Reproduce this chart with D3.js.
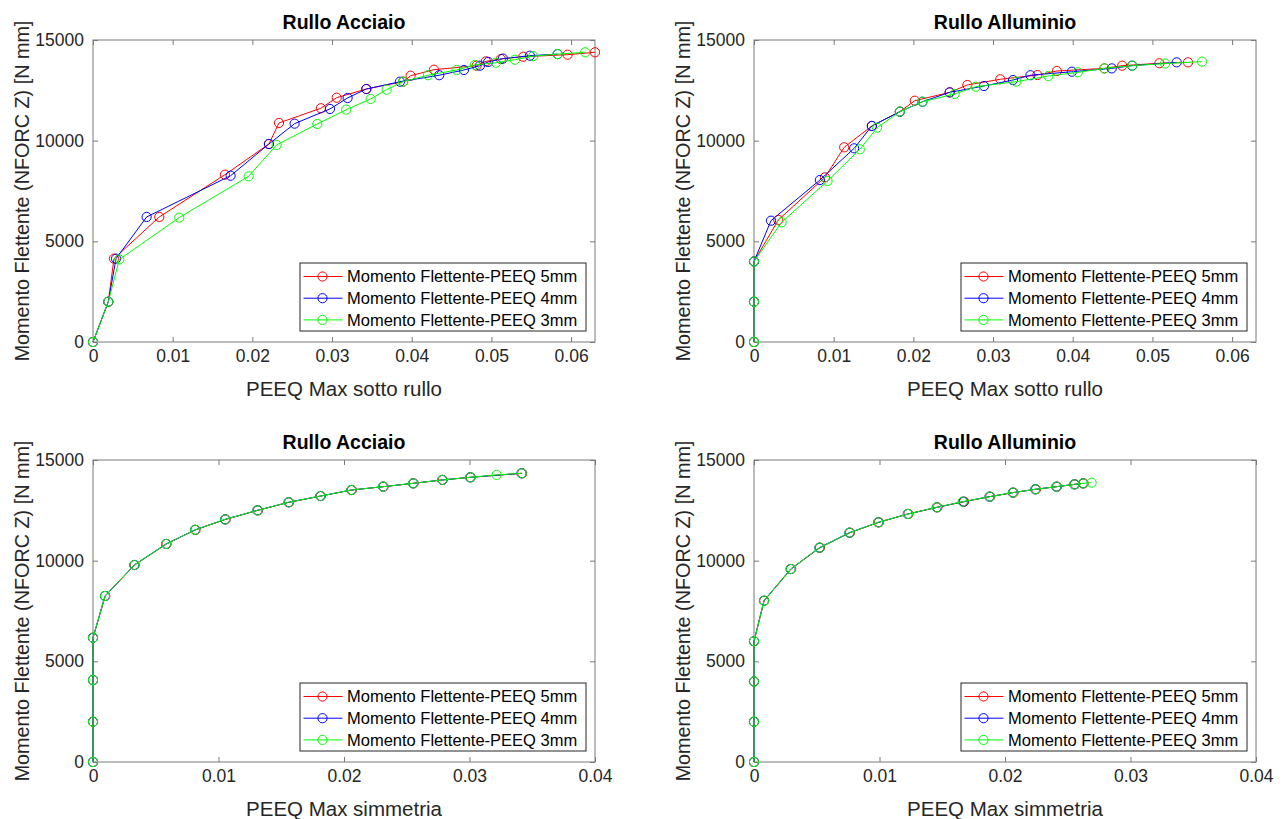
<!DOCTYPE html>
<html>
<head>
<meta charset="utf-8">
<script src="https://cdn.jsdelivr.net/npm/d3@7"></script>
<style>
  html, body { margin: 0; padding: 0; background: #fff; }
  svg { display: block; font-family: "Liberation Sans", Arial, Helvetica, sans-serif; }
</style>
</head>
<body>
<svg id="chart" width="1284" height="819"></svg>
<script>
// ---- Data: PEEQ (x) vs bending moment (y) ----
// Steel roller, PEEQ max under the roller
const acciaioRullo5x = [0, 0.00192, 0.00263, 0.00832, 0.01656, 0.02208, 0.02334, 0.0286, 0.03058, 0.0343, 0.03893, 0.03986, 0.04279, 0.04814, 0.04931, 0.05119, 0.05399, 0.05956, 0.0630];
const acciaioRullo5y = [0, 2000, 4140, 6210, 8310, 9835, 10880, 11610, 12135, 12565, 12930, 13225, 13525, 13725, 13940, 14055, 14170, 14270, 14390];
const acciaioRullo4x = [0, 0.00192, 0.00289, 0.00673, 0.01727, 0.02208, 0.0253, 0.02974, 0.03195, 0.0343, 0.03852, 0.04345, 0.04655, 0.04856, 0.0496, 0.05144, 0.05483, 0.05831];
const acciaioRullo4y = [0, 2000, 4140, 6210, 8260, 9835, 10845, 11575, 12120, 12565, 12930, 13250, 13510, 13725, 13910, 14075, 14220, 14300];
const acciaioRullo3x = [0, 0.00192, 0.0033, 0.01083, 0.01953, 0.02304, 0.02815, 0.03178, 0.03484, 0.03685, 0.0389, 0.04204, 0.04563, 0.04793, 0.05057, 0.05295, 0.05524, 0.05831, 0.06177];
const acciaioRullo3y = [0, 2000, 4100, 6180, 8230, 9786, 10830, 11540, 12070, 12535, 12930, 13250, 13510, 13760, 13870, 14020, 14200, 14300, 14390];

// Aluminium roller, PEEQ max under the roller
const alluminioRullo5x = [0, 0, 0, 0.00305, 0.0089, 0.01132, 0.01479, 0.0183, 0.02018, 0.02456, 0.02677, 0.03091, 0.03556, 0.03801, 0.04398, 0.0462, 0.05088, 0.05447];
const alluminioRullo5y = [0, 2000, 4000, 6060, 8180, 9670, 10730, 11440, 11985, 12400, 12765, 13050, 13260, 13460, 13590, 13725, 13845, 13890];
const alluminioRullo4x = [0, 0, 0, 0.00213, 0.00827, 0.01257, 0.01479, 0.0183, 0.02114, 0.02456, 0.02886, 0.0325, 0.0347, 0.03989, 0.0449, 0.04745, 0.05305];
const alluminioRullo4y = [0, 2000, 4000, 6025, 8046, 9620, 10730, 11440, 11935, 12400, 12715, 13010, 13250, 13425, 13590, 13725, 13890];
const alluminioRullo3x = [0, 0, 0, 0.00347, 0.00923, 0.01328, 0.01545, 0.0183, 0.02114, 0.02519, 0.02782, 0.03291, 0.03694, 0.04064, 0.04398, 0.0475, 0.05159, 0.05623];
const alluminioRullo3y = [0, 2000, 4000, 5945, 7997, 9570, 10645, 11440, 11935, 12320, 12680, 12930, 13210, 13395, 13590, 13725, 13830, 13925];

// Steel roller, PEEQ max at the symmetry plane
const acciaioSimm5x = [0, 0, 0, 0, 0.00098, 0.00332, 0.00586, 0.00817, 0.01057, 0.01315, 0.01563, 0.01816, 0.02063, 0.02316, 0.02555, 0.02787, 0.0301, 0.0342];
const acciaioSimm5y = [0, 2000, 4070, 6170, 8245, 9785, 10830, 11530, 12050, 12500, 12900, 13210, 13510, 13675, 13840, 14010, 14140, 14340];
const acciaioSimm4x = [0, 0, 0, 0, 0.00095, 0.00329, 0.00582, 0.00813, 0.01052, 0.0131, 0.01558, 0.01811, 0.02058, 0.02311, 0.0255, 0.02782, 0.03005, 0.03414];
const acciaioSimm4y = [0, 2000, 4070, 6170, 8245, 9785, 10830, 11530, 12050, 12500, 12900, 13210, 13510, 13675, 13840, 14010, 14140, 14340];
const acciaioSimm3x = [0, 0, 0, 0, 0.00096, 0.0033, 0.00583, 0.00814, 0.01053, 0.01311, 0.01559, 0.01812, 0.02059, 0.02312, 0.02551, 0.02783, 0.03006, 0.03216, 0.03416];
const acciaioSimm3y = [0, 2000, 4070, 6170, 8245, 9785, 10830, 11530, 12050, 12500, 12900, 13210, 13510, 13675, 13840, 14010, 14140, 14260, 14340];

// Aluminium roller, PEEQ max at the symmetry plane
const alluminioSimm5x = [0, 0, 0, 0, 0.00082, 0.00296, 0.00526, 0.00765, 0.00996, 0.01231, 0.01462, 0.01674, 0.01882, 0.02068, 0.02247, 0.02415, 0.02558, 0.02627];
const alluminioSimm5y = [0, 2000, 4000, 6000, 8010, 9585, 10645, 11390, 11905, 12320, 12650, 12930, 13180, 13380, 13545, 13675, 13790, 13840];
const alluminioSimm4x = [0, 0, 0, 0, 0.00079, 0.00292, 0.00521, 0.0076, 0.0099, 0.01225, 0.01456, 0.01668, 0.01876, 0.02062, 0.02241, 0.02409, 0.02552, 0.02621];
const alluminioSimm4y = [0, 2000, 4000, 6000, 8010, 9585, 10645, 11390, 11905, 12320, 12650, 12930, 13180, 13380, 13545, 13675, 13790, 13840];
const alluminioSimm3x = [0, 0, 0, 0, 0.0008, 0.00293, 0.00522, 0.00761, 0.00992, 0.01227, 0.01458, 0.01662, 0.01878, 0.02064, 0.02243, 0.02411, 0.02554, 0.02623, 0.0269];
const alluminioSimm3y = [0, 2000, 4000, 6000, 8010, 9585, 10645, 11390, 11905, 12320, 12650, 12930, 13180, 13380, 13545, 13675, 13790, 13840, 13875];

// Ticks and labels
const yTicks = [0, 5000, 10000, 15000];
const xTicksRullo = [0, 0.01, 0.02, 0.03, 0.04, 0.05, 0.06];
const xTicksSimm = [0, 0.01, 0.02, 0.03, 0.04];
const seriesNames = ["Momento Flettente-PEEQ 5mm", "Momento Flettente-PEEQ 4mm", "Momento Flettente-PEEQ 3mm"];
const panelTitles = ["Rullo Acciaio", "Rullo Alluminio", "Rullo Acciaio", "Rullo Alluminio"];
const xAxisTitles = ["PEEQ Max sotto rullo", "PEEQ Max sotto rullo", "PEEQ Max simmetria", "PEEQ Max simmetria"];
const yAxisTitle = "Momento Flettente (NFORC Z) [N mm]";

// ---- Layout ----
const seriesColors = ["#ff0000", "#0000ff", "#00ff00"];
const axisColor = "#262626";
const boxColor = "#7a7a7a";
const zip = (xs, ys) => xs.map((x, i) => ({ x, y: ys[i] }));

const panels = [
  { left: 93,  top: 40,  xMax: 0.063, xTicks: xTicksRullo,
    series: [zip(acciaioRullo5x, acciaioRullo5y), zip(acciaioRullo4x, acciaioRullo4y), zip(acciaioRullo3x, acciaioRullo3y)] },
  { left: 754, top: 40,  xMax: 0.063, xTicks: xTicksRullo,
    series: [zip(alluminioRullo5x, alluminioRullo5y), zip(alluminioRullo4x, alluminioRullo4y), zip(alluminioRullo3x, alluminioRullo3y)] },
  { left: 93,  top: 460, xMax: 0.04, xTicks: xTicksSimm,
    series: [zip(acciaioSimm5x, acciaioSimm5y), zip(acciaioSimm4x, acciaioSimm4y), zip(acciaioSimm3x, acciaioSimm3y)] },
  { left: 754, top: 460, xMax: 0.04, xTicks: xTicksSimm,
    series: [zip(alluminioSimm5x, alluminioSimm5y), zip(alluminioSimm4x, alluminioSimm4y), zip(alluminioSimm3x, alluminioSimm3y)] }
];
const W = 502, H = 302;

const svg = d3.select("#chart");

panels.forEach((p, pi) => {
  const g = svg.append("g").attr("transform", `translate(${p.left},${p.top})`);
  const x = d3.scaleLinear().domain([0, p.xMax]).range([0, W]);
  const y = d3.scaleLinear().domain([0, 15000]).range([H, 0]);

  // axes (ticks inward, mirrored on top/right)
  const fmtX = d3.format("~g");
  const styleAxis = sel => {
    sel.select(".domain").remove();
    sel.selectAll(".tick line").attr("stroke", boxColor).attr("stroke-width", 1);
    sel.selectAll(".tick text").attr("fill", axisColor).style("font-size", "17.5px");
  };
  g.append("g").attr("transform", `translate(0,${H})`)
    .call(d3.axisBottom(x).tickValues(p.xTicks).tickFormat(fmtX).tickSizeInner(-5).tickSizeOuter(0).tickPadding(8))
    .call(styleAxis);
  g.append("g")
    .call(d3.axisTop(x).tickValues(p.xTicks).tickFormat("").tickSizeInner(-5).tickSizeOuter(0))
    .call(styleAxis);
  g.append("g")
    .call(d3.axisLeft(y).tickValues(yTicks).tickFormat(d3.format("d")).tickSizeInner(-5).tickSizeOuter(0).tickPadding(9))
    .call(styleAxis);
  g.append("g").attr("transform", `translate(${W},0)`)
    .call(d3.axisRight(y).tickValues(yTicks).tickFormat("").tickSizeInner(-5).tickSizeOuter(0))
    .call(styleAxis);
  g.selectAll(".tick text").attr("font-family", null);

  g.append("rect").attr("x", 0).attr("y", 0).attr("width", W).attr("height", H)
    .attr("fill", "none").attr("stroke", boxColor).attr("stroke-width", 1);

  // series
  const line = d3.line().x(d => x(d.x)).y(d => y(d.y));
  p.series.forEach((s, si) => {
    g.append("path").datum(s).attr("d", line)
      .attr("fill", "none").attr("stroke", seriesColors[si]).attr("stroke-width", 1);
    g.append("g").selectAll("circle").data(s).join("circle")
      .attr("cx", d => x(d.x)).attr("cy", d => y(d.y)).attr("r", 4.6)
      .attr("fill", "none").attr("stroke", seriesColors[si]).attr("stroke-width", 1);
  });

  // title
  g.append("text").attr("x", W / 2).attr("y", -11).attr("text-anchor", "middle")
    .style("font-size", "19.5px").style("font-weight", "bold").attr("fill", "#000")
    .text(panelTitles[pi]);

  // axis titles
  g.append("text").attr("x", W / 2).attr("y", H + 54).attr("text-anchor", "middle")
    .style("font-size", "20.5px").attr("fill", axisColor).text(xAxisTitles[pi]);
  g.append("text").attr("transform", `translate(-64,${H / 2}) rotate(-90)`)
    .attr("text-anchor", "middle").style("font-size", "19.8px").attr("fill", axisColor)
    .text(yAxisTitle);

  // legend
  const lw = 286, lh = 68;
  const lg = g.append("g").attr("transform", `translate(${W - 9 - lw},${H - 11 - lh})`);
  lg.append("rect").attr("width", lw).attr("height", lh)
    .attr("fill", "#fff").attr("stroke", axisColor).attr("stroke-width", 1);
  seriesNames.forEach((name, si) => {
    const ry = 13.5 + si * 21.7;
    lg.append("line").attr("x1", 3.5).attr("x2", 42.5).attr("y1", ry).attr("y2", ry)
      .attr("stroke", seriesColors[si]).attr("stroke-width", 1);
    lg.append("circle").attr("cx", 22.5).attr("cy", ry).attr("r", 4.6)
      .attr("fill", "none").attr("stroke", seriesColors[si]).attr("stroke-width", 1);
    lg.append("text").attr("x", 47).attr("y", ry).attr("dy", "0.36em")
      .style("font-size", "16.5px").attr("fill", "#000").text(name);
  });
});
</script>
</body>
</html>
